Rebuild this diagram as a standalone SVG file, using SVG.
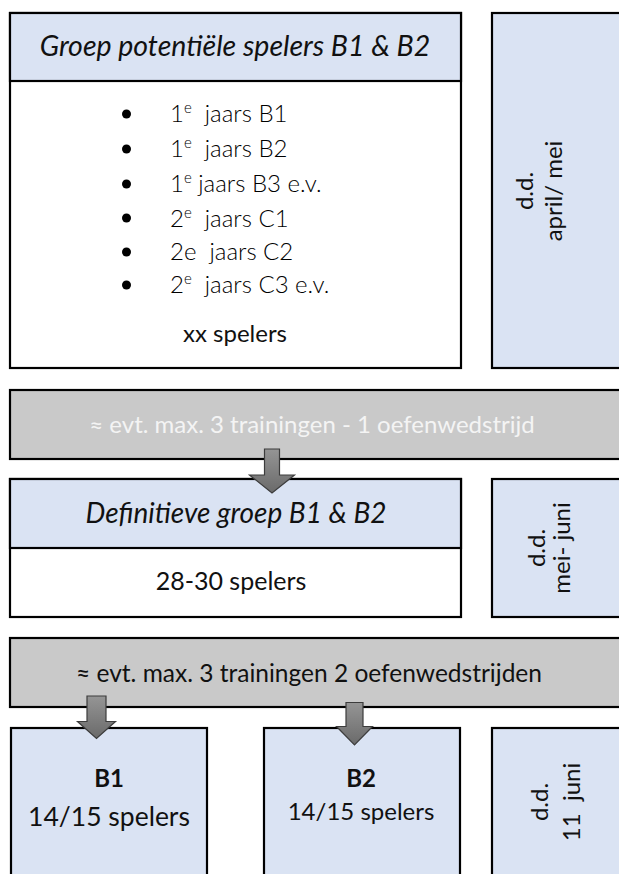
<svg xmlns="http://www.w3.org/2000/svg" width="619" height="874" viewBox="0 0 619 874">
<style>
.box{stroke:#000;stroke-width:2.2;}
.blue{fill:#dae3f3;}
.white{fill:#fff;}
.gray{fill:#c9c9c9;}
.t{font-family:Lato,"Liberation Sans",sans-serif;fill:#111;}
.it{font-style:italic;}
.light{font-weight:300;fill:#000;}
.arrow{fill:url(#ag);stroke:#3c3c3c;stroke-width:1.2;stroke-linejoin:miter;}
</style>
<defs>
<linearGradient id="ag" x1="0" y1="0" x2="0" y2="1">
<stop offset="0" stop-color="#959595"/>
<stop offset="1" stop-color="#6a6a6a"/>
</linearGradient>
</defs>
<rect width="619" height="874" fill="#fff"/>

<g id="groep-potentieel">
<rect class="box white" x="10" y="13" width="451" height="355"/>
<rect class="box blue" x="10" y="13" width="451" height="68"/>
<text class="t it" x="235" y="56" font-size="28.5" text-anchor="middle">Groep potentiële spelers B1 &amp; B2</text>
<g class="t light" font-size="24">
<circle cx="126.5" cy="114" r="4.5" fill="#000"/>
<text x="170" y="122">1<tspan font-size="15" dy="-9">e</tspan><tspan dy="9" xml:space="preserve">  jaars B1</tspan></text>
<circle cx="126.5" cy="149" r="4.5" fill="#000"/>
<text x="170" y="157">1<tspan font-size="15" dy="-9">e</tspan><tspan dy="9" xml:space="preserve">  jaars B2</tspan></text>
<circle cx="126.5" cy="184" r="4.5" fill="#000"/>
<text x="170" y="192">1<tspan font-size="15" dy="-9">e</tspan><tspan dy="9"> jaars B3 e.v.</tspan></text>
<circle cx="126.5" cy="218" r="4.5" fill="#000"/>
<text x="170" y="226.5">2<tspan font-size="15" dy="-9">e</tspan><tspan dy="9" xml:space="preserve">  jaars C1</tspan></text>
<circle cx="126.5" cy="252" r="4.5" fill="#000"/>
<text x="170" y="260" xml:space="preserve">2e  jaars C2</text>
<circle cx="126.5" cy="285" r="4.5" fill="#000"/>
<text x="170" y="293">2<tspan font-size="15" dy="-9">e</tspan><tspan dy="9" xml:space="preserve">  jaars C3 e.v.</tspan></text>
</g>
<text class="t" x="235" y="341.5" font-size="24" text-anchor="middle">xx spelers</text>
</g>

<g id="datum-1">
<rect class="box blue" x="492" y="13" width="140" height="355"/>
<text class="t" font-size="24" text-anchor="middle" transform="translate(533,191) rotate(-90)">d.d.</text>
<text class="t" font-size="24" text-anchor="middle" transform="translate(562,191) rotate(-90)">april/ mei</text>
</g>

<g id="training-1">
<rect class="box gray" x="10" y="390" width="620" height="69"/>
<text class="t" x="312" y="433" font-size="24" text-anchor="middle" style="fill:#f4f4f4">≈ evt. max. 3 trainingen - 1 oefenwedstrijd</text>
</g>

<g id="definitieve-groep">
<rect class="box white" x="10" y="479" width="451" height="138"/>
<rect class="box blue" x="10" y="479" width="451" height="69"/>
<text class="t it" x="236" y="523" font-size="28" text-anchor="middle">Definitieve groep B1 &amp; B2</text>
<text class="t" x="231" y="590" font-size="25" text-anchor="middle">28-30 spelers</text>
</g>

<g id="datum-2">
<rect class="box blue" x="492" y="479" width="140" height="138"/>
<text class="t" font-size="24" text-anchor="middle" transform="translate(545,548) rotate(-90)">d.d.</text>
<text class="t" font-size="24" text-anchor="middle" transform="translate(570,548) rotate(-90)">mei- juni</text>
</g>

<g id="training-2">
<rect class="box gray" x="10" y="638" width="620" height="69"/>
<text class="t" x="309" y="682" font-size="24.5" text-anchor="middle">≈ evt. max. 3 trainingen 2 oefenwedstrijden</text>
</g>

<g id="b1">
<rect class="box blue" x="11" y="728" width="196" height="160"/>
<text class="t" x="109" y="787" font-size="24" font-weight="bold" text-anchor="middle">B1</text>
<text class="t" x="109" y="826" font-size="26.5" text-anchor="middle">14/15 spelers</text>
</g>

<g id="b2">
<rect class="box blue" x="264" y="728" width="196" height="160"/>
<text class="t" x="361" y="787" font-size="24" font-weight="bold" text-anchor="middle">B2</text>
<text class="t" x="361" y="820" font-size="24" text-anchor="middle">14/15 spelers</text>
</g>

<g id="datum-3">
<rect class="box blue" x="492" y="728" width="140" height="160"/>
<text class="t" font-size="24" text-anchor="middle" transform="translate(548,802) rotate(-90)">d.d.</text>
<text class="t" font-size="24" text-anchor="middle" transform="translate(580,802) rotate(-90)" xml:space="preserve">11  juni</text>
</g>

<g id="connectors">
<path class="arrow" d="M264.5,449 H279.5 V475 H294.5 L272,493 L249.5,475 H264.5 Z"/>
<path class="arrow" d="M87,696 H106 V721.5 H115.5 L96.5,738.5 L77.5,721.5 H87 Z"/>
<path class="arrow" d="M346,702.5 H363 V726.5 H372.5 L354.5,745 L336.5,726.5 H346 Z"/>
</g>
</svg>
